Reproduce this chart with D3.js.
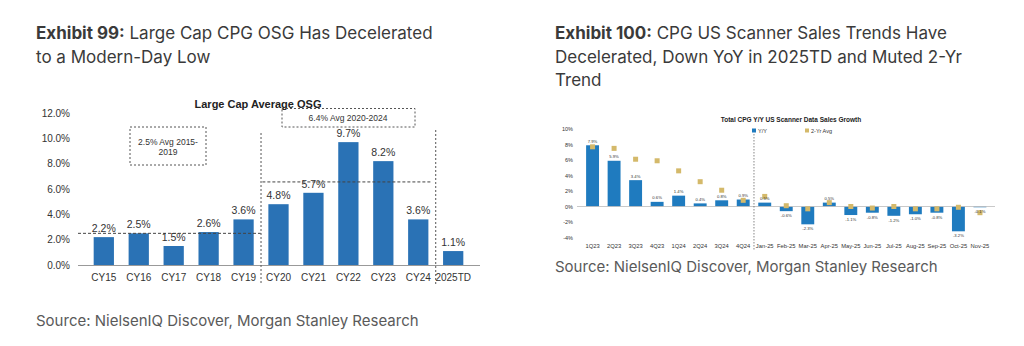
<!DOCTYPE html>
<html>
<head>
<meta charset="utf-8">
<script src="https://cdn.jsdelivr.net/npm/d3@7"></script>
<style>
  body { margin: 0; background: #fff; }
  text { font-family: "Liberation Sans", Arial, sans-serif; }
  .title { font-family: Inter, "Open Sans", sans-serif; font-size: 17px; fill: #3a3a3a; }
  .source { font-family: Inter, "Open Sans", sans-serif; font-size: 15px; fill: #5a5a5a; }
</style>
</head>
<body>
<svg id="page" width="1024" height="346"></svg>
<script>
// ---- left chart data (Exhibit 99)
const osgYears = ['CY15', 'CY16', 'CY17', 'CY18', 'CY19', 'CY20', 'CY21', 'CY22', 'CY23', 'CY24', '2025TD'];
const osgValues = [2.2, 2.5, 1.5, 2.6, 3.6, 4.8, 5.7, 9.7, 8.2, 3.6, 1.1];
const osgTicks = [0, 2, 4, 6, 8, 10, 12];
const avgPeriods = [
  { from: 'CY15', to: 'CY19', value: 2.5, label: ['2.5% Avg 2015-', '2019'] },
  { from: 'CY20', to: 'CY24', value: 6.4, label: ['6.4% Avg 2020-2024'] }
];

// ---- right chart data (Exhibit 100)
const scanPeriods = ['1Q23', '2Q23', '3Q23', '4Q23', '1Q24', '2Q24', '3Q24', '4Q24',
  'Jan-25', 'Feb-25', 'Mar-25', 'Apr-25', 'May-25', 'Jun-25', 'Jul-25', 'Aug-25', 'Sep-25', 'Oct-25', 'Nov-25'];
const scanYoY = [7.9, 5.9, 3.4, 0.6, 1.4, 0.4, 0.8, 0.9, 0.5, -0.6, -2.3, 0.5, -1.1, -0.8, -1.2, -1.0, -0.8, -3.2, -0.1];
const scan2Yr = [7.7, 7.5, 6.1, 5.9, 4.6, 3.2, 2.1, 0.8, 1.3, 0.1, -0.3, 0.5, 0.0, -0.2, 0.0, -0.3, -0.3, -0.1, -0.8];
const scanTicks = [-4, -2, 0, 2, 4, 6, 8, 10];

const svg = d3.select('#page');

// ---------------- titles & sources
function title(x, y, bold, lines) {
  const t = svg.append('text').attr('class', 'title').attr('x', x).attr('y', y);
  t.append('tspan').attr('font-weight', 'bold').text(bold);
  t.append('tspan').text(' ' + lines[0]);
  lines.slice(1).forEach((l, i) => {
    svg.append('text').attr('class', 'title').attr('x', x).attr('y', y + 23.5 * (i + 1)).text(l);
  });
}
title(36, 39, 'Exhibit 99:', ['Large Cap CPG OSG Has Decelerated', 'to a Modern-Day Low']);
title(555, 39, 'Exhibit 100:', ['CPG US Scanner Sales Trends Have', 'Decelerated, Down YoY in 2025TD and Muted 2-Yr', 'Trend']);
svg.append('text').attr('class', 'source').attr('x', 36).attr('y', 326)
  .text('Source: NielsenIQ Discover, Morgan Stanley Research');
svg.append('text').attr('class', 'source').attr('x', 555).attr('y', 272)
  .text('Source: NielsenIQ Discover, Morgan Stanley Research');

// ---------------- left chart
{
  const x = d3.scaleBand().domain(osgYears).range([79, 478]).padding(0.42);
  const y = d3.scaleLinear().domain([0, 12]).range([265, 113]);
  const g = svg.append('g');

  g.append('text').attr('x', 258).attr('y', 108).attr('text-anchor', 'middle')
    .attr('font-size', 11).attr('font-weight', 'bold').attr('fill', '#222')
    .text('Large Cap Average OSG');

  // y axis labels, no line
  const yAxis = g.append('g').attr('transform', 'translate(78,0)')
    .call(d3.axisLeft(y).tickValues(osgTicks).tickSize(0).tickPadding(8).tickFormat(d => d.toFixed(1) + '%'));
  yAxis.select('.domain').remove();
  yAxis.selectAll('text').attr('font-size', 10).attr('fill', '#333').attr('font-family', '"Liberation Sans", Arial');

  g.selectAll('.bar').data(osgValues).enter().append('rect')
    .attr('x', (d, i) => x(osgYears[i]))
    .attr('width', x.bandwidth())
    .attr('y', d => y(d))
    .attr('height', d => y(0) - y(d))
    .attr('fill', '#2a72b5');

  // x axis
  const xAxis = g.append('g').attr('transform', 'translate(0,265)')
    .call(d3.axisBottom(x).tickSize(0).tickPadding(9));
  xAxis.select('.domain').attr('stroke', '#999').attr('d', 'M78,0.5H480');
  xAxis.selectAll('text').attr('font-size', 10).attr('fill', '#333').attr('font-family', '"Liberation Sans", Arial');

  // dashed separators
  const gap = (x.step() - x.bandwidth()) / 2;
  [x('CY19') + x.bandwidth() + gap, x('CY24') + x.bandwidth() + gap]
    .forEach((sx, i) => {
      g.append('line').attr('x1', sx).attr('x2', sx).attr('y1', i === 0 ? 133 : 130).attr('y2', 284)
        .attr('stroke', '#555').attr('stroke-width', 1).attr('stroke-dasharray', '2,2');
    });

  // average lines and boxes
  const p1 = avgPeriods[0], p2 = avgPeriods[1];
  g.append('line').attr('x1', 78).attr('x2', x(p1.to) + x.bandwidth() + 7)
    .attr('y1', y(p1.value)).attr('y2', y(p1.value))
    .attr('stroke', '#444').attr('stroke-dasharray', '3,2');
  g.append('line').attr('x1', x(p2.from) - 6).attr('x2', x(p2.to) + x.bandwidth() + 2)
    .attr('y1', y(p2.value) - 2).attr('y2', y(p2.value) - 2)
    .attr('stroke', '#444').attr('stroke-dasharray', '3,2');

  g.append('rect').attr('x', 130).attr('y', 127).attr('width', 76).attr('height', 38)
    .attr('fill', '#fff').attr('stroke', '#555').attr('stroke-dasharray', '2,2');
  p1.label.forEach((l, i) => {
    g.append('text').attr('x', 168).attr('y', 145 + i * 10).attr('text-anchor', 'middle')
      .attr('font-size', 8.5).attr('fill', '#333').text(l);
  });
  g.append('rect').attr('x', 282).attr('y', 108.5).attr('width', 133).attr('height', 18.5)
    .attr('fill', 'none').attr('stroke', '#555').attr('stroke-dasharray', '2,2');
  g.append('text').attr('x', 348).attr('y', 121).attr('text-anchor', 'middle')
    .attr('font-size', 8.5).attr('fill', '#333').text(p2.label[0]);

  // value labels
  g.selectAll('.val').data(osgValues).enter().append('text')
    .attr('x', (d, i) => x(osgYears[i]) + x.bandwidth() / 2)
    .attr('y', d => y(d) - 5)
    .attr('text-anchor', 'middle').attr('font-size', 10.5).attr('fill', '#333')
    .text(d => d.toFixed(1) + '%');
}

// ---------------- right chart
{
  const x = d3.scaleBand().domain(scanPeriods).range([577.5, 995]).padding(0.4);
  const y = d3.scaleLinear().domain([-4, 10]).range([237.5, 129]);
  const g = svg.append('g');

  g.append('text').attr('x', 791).attr('y', 122).attr('text-anchor', 'middle')
    .attr('font-size', 6.5).attr('font-weight', 'bold').attr('fill', '#222')
    .text('Total CPG Y/Y US Scanner Data Sales Growth');

  // legend
  g.append('rect').attr('x', 752).attr('y', 128.5).attr('width', 4).attr('height', 4).attr('fill', '#1f7bbf');
  g.append('text').attr('x', 758).attr('y', 132.5).attr('font-size', 5.5).attr('fill', '#333').text('Y/Y');
  g.append('rect').attr('x', 805).attr('y', 128.5).attr('width', 4).attr('height', 4).attr('fill', '#d4b96a');
  g.append('text').attr('x', 811).attr('y', 132.5).attr('font-size', 5.5).attr('fill', '#333').text('2-Yr Avg');

  const yAxis = g.append('g').attr('transform', 'translate(575,0)')
    .call(d3.axisLeft(y).tickValues(scanTicks).tickSize(0).tickPadding(2).tickFormat(d => d + '%'));
  yAxis.select('.domain').remove();
  yAxis.selectAll('text').attr('font-size', 5.5).attr('fill', '#333');

  g.selectAll('.bar').data(scanYoY).enter().append('rect')
    .attr('x', (d, i) => x(scanPeriods[i]))
    .attr('width', x.bandwidth())
    .attr('y', d => y(Math.max(0, d)))
    .attr('height', d => Math.abs(y(d) - y(0)))
    .attr('fill', '#1f7bbf');

  g.append('line').attr('x1', 577).attr('x2', 995).attr('y1', y(0)).attr('y2', y(0))
    .attr('stroke', '#bbb').attr('stroke-width', 0.8);

  const sx = x('4Q24') + x.bandwidth() + (x.step() - x.bandwidth()) / 2;
  g.append('line').attr('x1', sx).attr('x2', sx).attr('y1', 134).attr('y2', 250)
    .attr('stroke', '#666').attr('stroke-width', 0.8).attr('stroke-dasharray', '1.5,1.5');

  g.selectAll('.avg').data(scan2Yr).enter().append('rect')
    .attr('x', (d, i) => x(scanPeriods[i]) + x.bandwidth() / 2 - 2.5)
    .attr('y', d => y(d) - 2.5)
    .attr('width', 5).attr('height', 5)
    .attr('fill', '#d4b96a');

  g.selectAll('.val').data(scanYoY).enter().append('text')
    .attr('x', (d, i) => x(scanPeriods[i]) + x.bandwidth() / 2)
    .attr('y', d => d >= 0 ? y(d) - 2.5 : y(d) + 6)
    .attr('text-anchor', 'middle').attr('font-size', 4.2).attr('fill', '#333')
    .text(d => d.toFixed(1) + '%');

  const xAxis = g.append('g').attr('transform', `translate(0,${y(-4) + 4})`)
    .call(d3.axisBottom(x).tickSize(0).tickPadding(2));
  xAxis.select('.domain').remove();
  xAxis.selectAll('text').attr('font-size', 5.8).attr('fill', '#333');
}
</script>
</body>
</html>
